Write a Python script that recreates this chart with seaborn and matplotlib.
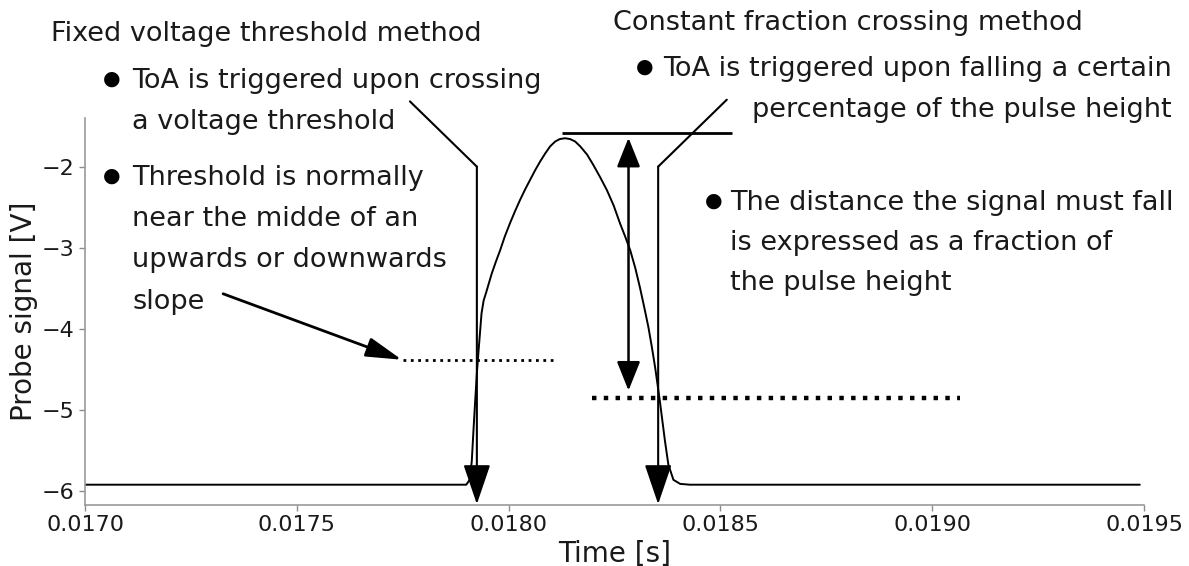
import matplotlib
matplotlib.use("Agg")
import matplotlib.pyplot as plt
import pandas as pd
import seaborn as sns

# Probe trace: time [s] and probe signal [V]
time_s = [0.017000, 0.017900, 0.017908, 0.017913, 0.017917, 0.017921, 0.017925,
          0.017929, 0.017936, 0.017941, 0.017947, 0.017960, 0.017970, 0.017980,
          0.017991, 0.018003, 0.018015, 0.018027, 0.018039, 0.018051, 0.018062,
          0.018074, 0.018086, 0.018098, 0.018110, 0.018121, 0.018133, 0.018145,
          0.018157, 0.018169, 0.018185, 0.018200, 0.018216, 0.018232, 0.018248,
          0.018263, 0.018275, 0.018287, 0.018299, 0.018310, 0.018320, 0.018330,
          0.018338, 0.018346, 0.018357, 0.018369, 0.018377, 0.018389, 0.018405,
          0.018428, 0.019490]
signal_v = [-5.92, -5.92, -5.86, -5.63, -5.25, -4.89, -4.55,
            -4.27, -3.81, -3.65, -3.55, -3.32, -3.17, -3.03,
            -2.86, -2.70, -2.55, -2.41, -2.28, -2.16, -2.05,
            -1.94, -1.84, -1.75, -1.69, -1.66, -1.65, -1.66,
            -1.69, -1.75, -1.85, -1.98, -2.13, -2.29, -2.48,
            -2.70, -2.86, -3.03, -3.25, -3.49, -3.73, -3.98,
            -4.22, -4.48, -4.89, -5.38, -5.67, -5.86, -5.91,
            -5.92, -5.92]

# Trigger levels and times of arrival
fixed_threshold_v = -4.38
fixed_threshold_span = [0.017751, 0.018110]
cfd_level_v = -4.85
cfd_level_span = [0.018196, 0.019066]
pulse_top_v = -1.58
pulse_top_span = [0.018125, 0.018527]
fall_marker_t = 0.018283
fall_marker_range = [-1.645, -4.76]
toa_fixed_t = 0.017925
toa_cfd_t = 0.018353

x_ticks = [0.0170, 0.0175, 0.0180, 0.0185, 0.0190, 0.0195]
y_ticks = [-6, -5, -4, -3, -2]

sns.set_theme(style="ticks")
plt.rcParams["font.family"] = ["DejaVu Sans"]

INK = "#1a1a1a"
TXT = 19.5

fig = plt.figure(figsize=(11.89, 5.66), dpi=100)
ax = fig.add_axes([0.0715, 0.1078, 0.8907, 0.6838])

trace = pd.DataFrame({"Time [s]": time_s, "Probe signal [V]": signal_v})
sns.lineplot(data=trace, x="Time [s]", y="Probe signal [V]", ax=ax,
             color="black", linewidth=1.4, sort=True)

# threshold / constant-fraction levels
ax.plot(fixed_threshold_span, [fixed_threshold_v] * 2, color="black",
        linestyle=":", linewidth=2.0)
ax.plot(cfd_level_span, [cfd_level_v] * 2, color="black",
        linestyle=":", linewidth=3.2)
ax.plot(pulse_top_span, [pulse_top_v] * 2, color="black", linewidth=2.0,
        solid_capstyle="butt")

# fall distance
ax.annotate("", xy=(fall_marker_t, fall_marker_range[1]),
            xytext=(fall_marker_t, fall_marker_range[0]),
            arrowprops=dict(arrowstyle="<|-|>,head_length=1.8,head_width=0.72",
                            mutation_scale=10, color="black", lw=1.8,
                            shrinkA=0, shrinkB=0))

bottom = -6.16
head = dict(arrowstyle="-|>,head_length=2.5,head_width=0.85",
            mutation_scale=10, color="black", lw=1.5, shrinkA=0, shrinkB=0)

# fixed-threshold ToA pointer
ax.plot([0.017767, toa_fixed_t], [-1.196, -2.0], color="black", lw=1.5,
        clip_on=False, solid_capstyle="round")
ax.annotate("", xy=(toa_fixed_t, bottom), xytext=(toa_fixed_t, -2.0),
            arrowprops=head, annotation_clip=False)

# constant-fraction ToA pointer
ax.plot([0.018515, toa_cfd_t], [-1.175, -2.0], color="black", lw=1.5,
        clip_on=False, solid_capstyle="round")
ax.annotate("", xy=(toa_cfd_t, bottom), xytext=(toa_cfd_t, -2.0),
            arrowprops=head, annotation_clip=False)

# pointer to the threshold level
ax.annotate("", xy=(0.017748, fixed_threshold_v), xytext=(0.017326, -3.567),
            arrowprops=dict(arrowstyle="-|>,head_length=2.2,head_width=0.6",
                            mutation_scale=10, color="black", lw=2.0,
                            shrinkA=0, shrinkB=0))


def lines(x, ys, rows, ha="left"):
    for y, row in zip(ys, rows):
        ax.text(x, y, row, fontsize=TXT, color=INK, ha=ha, va="baseline",
                clip_on=False)


def bullet(x, y):
    ax.text(x, y + 0.04, "\u25CF", fontsize=14.5, color="black", ha="center",
            va="baseline", clip_on=False)


lines(0.016920, [-0.457], ["Fixed voltage threshold method"])
bullet(0.017064, -1.026)
lines(0.017111, [-1.026, -1.533],
      ["ToA is triggered upon crossing", "a voltage threshold"])
bullet(0.017064, -2.226)
lines(0.017111, [-2.226, -2.734, -3.241, -3.749],
      ["Threshold is normally", "near the midde of an",
       "upwards or downwards", "slope"])

lines(0.018246, [-0.321], ["Constant fraction crossing method"])
bullet(0.018322, -0.877)
lines(0.019566, [-0.877, -1.385],
      ["ToA is triggered upon falling a certain",
       "percentage of the pulse height"], ha="right")
bullet(0.018483, -2.536)
lines(0.018522, [-2.536, -3.031, -3.526],
      ["The distance the signal must fall", "is expressed as a fraction of",
       "the pulse height"])

ax.set_xlim(0.0170, 0.0195)
ax.set_ylim(-6.17, -1.40)
ax.set_xticks(x_ticks)
ax.set_xticklabels([f"{v:.4f}" for v in x_ticks])
ax.set_yticks(y_ticks)
ax.set_yticklabels([f"\u2212{abs(v)}" for v in y_ticks])
ax.tick_params(labelsize=16, colors="0.55", labelcolor=INK, length=4, width=1)
ax.set_xlabel("Time [s]", fontsize=20, color=INK, labelpad=3)
ax.set_ylabel("Probe signal [V]", fontsize=20, color=INK, labelpad=3)
for side in ("top", "right"):
    ax.spines[side].set_visible(False)
for side in ("left", "bottom"):
    ax.spines[side].set_color("0.6")
    ax.spines[side].set_linewidth(1.2)

fig.savefig("out.png", dpi=100)
